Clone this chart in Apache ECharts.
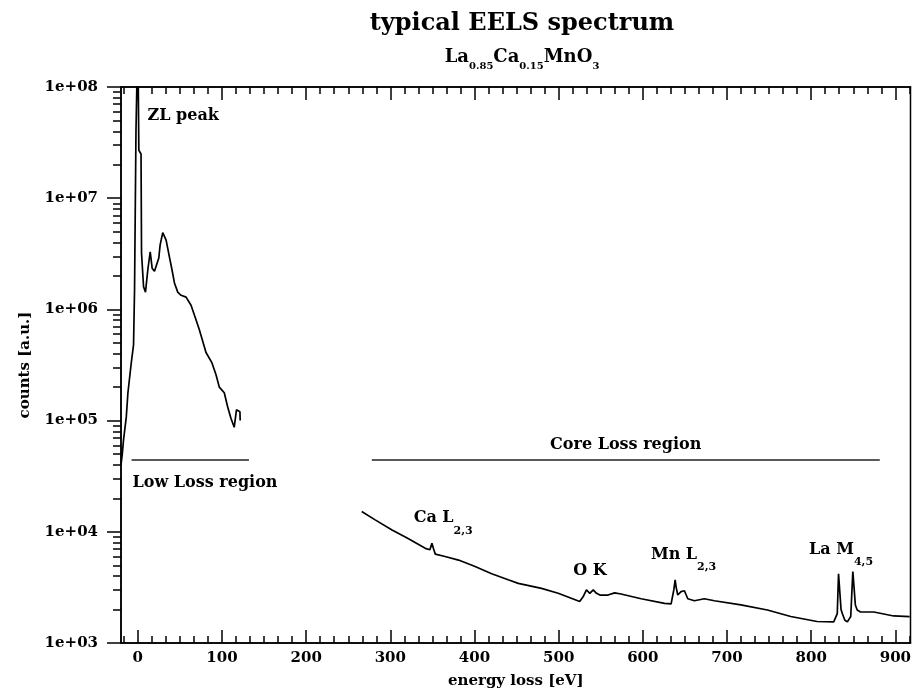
<!DOCTYPE html>
<html>
<head>
<meta charset="UTF-8">
<title>typical EELS spectrum</title>
<script src="https://cdn.jsdelivr.net/npm/echarts@6/dist/echarts.min.js"></script>
<style>
	html, body { margin: 0; padding: 0; background: #fff; }
	#chart { width: 914px; height: 697px; }
</style>
</head>
<body>
<div id="chart"></div>
<script>
	// low loss part (ZL peak + plasmons)
	var lowLossEnergy = [-20, -18.5, -17, -13.7, -11.8, -7.8, -5.1, -3.9, -2.2, 0, 1.2, 3.8, 4.4, 5.2, 6.8, 9.1, 11.8, 14.7, 17, 19.8,
		24.9, 26.5, 29.6, 33.6, 37.5, 40.7, 43.5, 47.4, 51.4, 57.3, 63.2, 68.3, 73, 77, 81, 88.1, 92.8, 96.8, 102.7, 106.6,
		110.6, 114.5, 117.2, 119.5, 121.3, 121.6];
	var lowLossCounts = [4.0e4, 5.0e4, 6.7e4, 1.08e5, 1.77e5, 3.3e5, 4.8e5, 1.5e6, 4.0e7, 3e8, 2.7e7, 2.5e7, 3.2e6, 3.1e6, 1.6e6, 1.43e6, 2.25e6, 3.3e6, 2.35e6, 2.2e6,
		2.9e6, 3.8e6, 4.9e6, 4.2e6, 2.97e6, 2.25e6, 1.73e6, 1.43e6, 1.34e6, 1.29e6, 1.09e6, 8.4e5, 6.6e5, 5.2e5, 4.1e5, 3.3e5, 2.6e5, 2.0e5, 1.78e5, 1.34e5,
		1.05e5, 8.7e4, 1.25e5, 1.22e5, 1.2e5, 1.0e5];

	// core loss part (Ca L, O K, Mn L, La M edges)
	var coreLossEnergy = [266, 282, 302, 320, 341.5, 347, 349.4, 351.4, 353.4, 365, 381, 400, 420.4, 440, 452, 479.6, 499.4, 525, 529, 533,
		537, 541, 545, 549, 558.6, 566.5, 574, 598, 625.8, 633.6, 636.8, 638.4, 639.5, 641.5, 645.4, 649.4, 653.4, 661.3, 673, 685,
		716.5, 748, 775.7, 807, 826.8, 831, 832.5, 834, 835.5, 837, 840, 843, 847, 849.5, 851, 852.5, 854.7, 858.6, 874.5, 898, 917];
	var coreLossCounts = [1.52e4, 1.28e4, 1.04e4, 8.8e3, 7.1e3, 6.9e3, 7.9e3, 7.0e3, 6.3e3, 6.0e3, 5.57e3, 4.9e3, 4.2e3, 3.7e3, 3.44e3, 3.1e3, 2.8e3, 2.36e3, 2.6e3, 3.0e3,
		2.8e3, 3.0e3, 2.8e3, 2.7e3, 2.7e3, 2.82e3, 2.76e3, 2.5e3, 2.27e3, 2.25e3, 3.0e3, 3.7e3, 3.2e3, 2.7e3, 2.9e3, 2.95e3, 2.5e3, 2.4e3, 2.5e3, 2.4e3,
		2.2e3, 1.98e3, 1.73e3, 1.56e3, 1.55e3, 1.84e3, 4.2e3, 4.2e3, 2.0e3, 1.84e3, 1.6e3, 1.55e3, 1.73e3, 4.4e3, 4.4e3, 2.2e3, 1.98e3, 1.9e3, 1.9e3, 1.75e3, 1.73e3];

	var xTickLabels = [0, 100, 200, 300, 400, 500, 600, 700, 800, 900];

	// region bars
	var lowLossSpan = [-7.5, 132];
	var coreLossSpan = [278, 881.5];
	var regionLevel = 4.48e4;

	// annotations (top-left anchor in data units)
	var noteText = ['{m|ZL peak}', '{m|Low Loss region}', '{m|Core Loss region}', '{m|Ca L}{s|2,3}', '{m|O K}', '{m|Mn L}{s|2,3}', '{m|La M}{s|4,5}'];
	var noteEnergy = [11.5, -6.3, 489.8, 327.7, 517.2, 609.6, 797.5];
	var noteCounts = [6.47e7, 3.27e4, 7.13e4, 1.56e4, 5.3e3, 7.3e3, 8.1e3];

	var serif = 'DejaVu Serif';

	function zip(a, b) {
		return a.map(function (v, i) { return [v, b[i]]; });
	}

	var minorX = [];
	for (var k = -1; k <= 55; k++) {
		if (k % 6 !== 0) minorX.push(k * 100 / 6);
	}
	var minorY = [];
	for (var d = 3; d < 8; d++) {
		for (var m = 2; m <= 9; m++) minorY.push(d + Math.log10(m));
	}

	var chart = echarts.init(document.getElementById('chart'));

	var tickStyle = { color: '#000', width: 1.5 };
	var labelFont = { fontFamily: serif, fontWeight: 'bold', fontSize: 15, color: '#000' };
	var richSub = {
		m: { fontFamily: serif, fontWeight: 'bold', fontSize: 16, color: '#000', verticalAlign: 'top' },
		s: { fontFamily: serif, fontWeight: 'bold', fontSize: 11, color: '#000', verticalAlign: 'bottom', padding: [15, 0, 0, 0] }
	};

	var notes = noteText.map(function (t, i) {
		return { value: [noteEnergy[i], noteCounts[i]], label: { formatter: t } };
	});

	var option = {
		animation: false,
		backgroundColor: '#fff',
		title: [{
			text: 'typical EELS spectrum',
			left: 517,
			top: 7,
			textAlign: 'center',
			textStyle: { fontFamily: serif, fontWeight: 'bold', fontSize: 24, color: '#000' }
		}, {
			text: '{m|La}{s|0.85}{m|Ca}{s|0.15}{m|MnO}{s|3}',
			left: 517,
			top: 43,
			textAlign: 'center',
			textStyle: {
				rich: {
					m: { fontFamily: serif, fontWeight: 'bold', fontSize: 18, color: '#000', verticalAlign: 'top' },
					s: { fontFamily: serif, fontWeight: 'bold', fontSize: 10, color: '#000', verticalAlign: 'bottom', padding: [13, 0, 0, 0] }
				}
			}
		}],
		grid: {
			left: 121, top: 87, width: 792, height: 556,
			show: true, borderColor: '#000', borderWidth: 1.5, backgroundColor: 'transparent'
		},
		xAxis: [{
			type: 'value', position: 'bottom', min: -20, max: 918,
			name: 'energy loss [eV]', nameLocation: 'middle', nameGap: 31,
			nameTextStyle: labelFont,
			axisLine: { show: true, onZero: false, lineStyle: tickStyle },
			axisTick: { show: true, inside: true, length: 13, lineStyle: tickStyle, customValues: xTickLabels },
			axisLabel: Object.assign({ margin: 8, customValues: xTickLabels }, labelFont),
			splitLine: { show: false }
		}, {
			type: 'value', position: 'bottom', min: -20, max: 918,
			axisLine: { show: false, onZero: false },
			axisTick: { show: true, inside: true, length: 7, lineStyle: tickStyle, customValues: minorX },
			axisLabel: { show: false },
			splitLine: { show: false }
		}, {
			type: 'value', position: 'top', min: -20, max: 918,
			axisLine: { show: true, onZero: false, lineStyle: tickStyle },
			axisTick: { show: true, inside: true, length: 13, lineStyle: tickStyle, customValues: xTickLabels },
			axisLabel: { show: false },
			splitLine: { show: false }
		}, {
			type: 'value', position: 'top', min: -20, max: 918,
			axisLine: { show: false, onZero: false },
			axisTick: { show: true, inside: true, length: 7, lineStyle: tickStyle, customValues: minorX },
			axisLabel: { show: false },
			splitLine: { show: false }
		}],
		yAxis: [{
			type: 'log', logBase: 10, min: 1e3, max: 1e8, position: 'left',
			name: 'counts [a.u.]', nameLocation: 'middle', nameGap: 88, nameRotate: 90,
			nameTextStyle: labelFont,
			axisLine: { show: true, onZero: false, lineStyle: tickStyle },
			axisTick: { show: true, inside: false, length: 14, lineStyle: tickStyle },
			axisLabel: Object.assign({
				margin: 23,
				formatter: function (v) { return '1e+0' + Math.round(Math.log10(v)); }
			}, labelFont),
			splitLine: { show: false },
			minorTick: { show: false }
		}, {
			// minor log ticks, in decade units
			type: 'value', min: 3, max: 8, position: 'left',
			axisLine: { show: false, onZero: false },
			axisTick: { show: true, inside: false, length: 8, lineStyle: tickStyle, customValues: minorY },
			axisLabel: { show: false },
			splitLine: { show: false }
		}],
		series: [{
			name: 'low loss',
			type: 'line',
			xAxisIndex: 0, yAxisIndex: 0,
			data: zip(lowLossEnergy, lowLossCounts),
			showSymbol: false,
			lineStyle: { color: '#000', width: 1.7 },
			clip: true,
			markLine: {
				silent: true, symbol: 'none',
				label: { show: false },
				lineStyle: { color: '#222', width: 1.5, type: 'solid' },
				data: [
					[{ coord: [lowLossSpan[0], regionLevel] }, { coord: [lowLossSpan[1], regionLevel] }],
					[{ coord: [coreLossSpan[0], regionLevel] }, { coord: [coreLossSpan[1], regionLevel] }]
				]
			}
		}, {
			name: 'core loss',
			type: 'line',
			xAxisIndex: 0, yAxisIndex: 0,
			data: zip(coreLossEnergy, coreLossCounts),
			showSymbol: false,
			lineStyle: { color: '#000', width: 1.7 },
			clip: true
		}, {
			name: 'notes',
			type: 'scatter',
			xAxisIndex: 0, yAxisIndex: 0,
			symbolSize: 0,
			silent: true,
			itemStyle: { opacity: 1 },
			data: notes,
			label: {
				show: true, position: [0, 0], align: 'left', verticalAlign: 'top',
				color: '#000', textBorderWidth: 0, opacity: 1,
				rich: richSub
			}
		}]
	};

	chart.setOption(option);
</script>
</body>
</html>
